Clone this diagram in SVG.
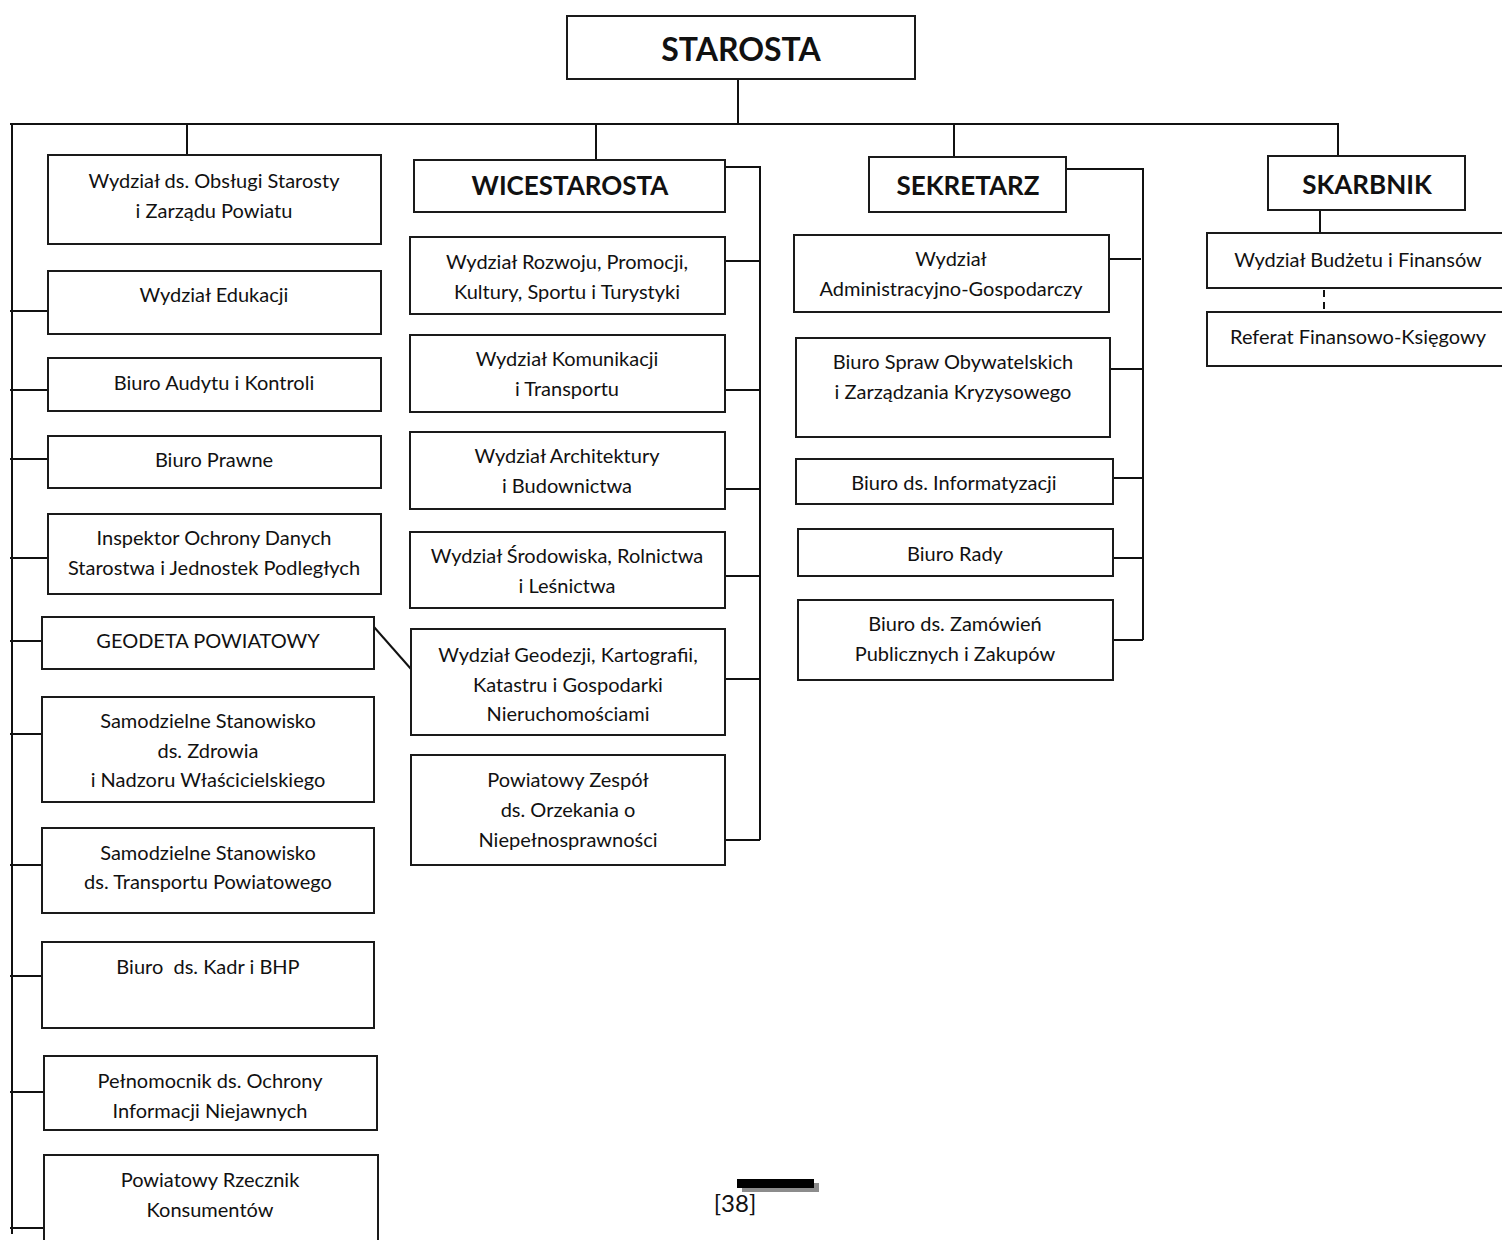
<svg xmlns="http://www.w3.org/2000/svg" width="1502" height="1240" viewBox="0 0 1502 1240">
<style>
.box{fill:#fff;stroke:#1a1a1a;stroke-width:2}
.ln{fill:none;stroke:#111;stroke-width:2}
.dash{fill:none;stroke:#111;stroke-width:2;stroke-dasharray:7,5}
text{font-family:Lato,"Open Sans","DejaVu Sans",sans-serif;fill:#111;text-anchor:middle}
.t{font-size:20px}
.h{font-size:26px;font-weight:bold}
.hh{font-size:32px;font-weight:bold}
.pg{font-size:24px}
</style>
<rect width="1502" height="1240" fill="#fff"/>
<g id="connectors">
<path class="ln" d="M738 79V124M10 124H1339M12 124V1234M187 124V155M596 124V160M954 124V157M1338 124V156"/>
<path class="ln" d="M10 311H48M10 390H48M10 459H48M10 558H48M10 641H42M10 734H42M10 865H42M10 976H42M10 1092H44M10 1228H44"/>
<path class="ln" d="M725 167H760V840M725 261H760M725 390H760M725 489H760M725 576H760M725 679H760M725 840H760"/>
<path class="ln" d="M374 627L411 669"/>
<path class="ln" d="M1066 169H1143V640M1109 259H1141M1110 369H1143M1113 478H1143M1110 558H1143M1110 640H1143"/>
<path class="ln" d="M1320 210V233"/>
<path class="dash" d="M1324 290V312"/>
</g>
<g id="starosta"><rect class="box" x="567" y="16" width="348" height="63"/><text class="hh" x="741" y="61">STAROSTA</text></g>
<g id="obslugi"><rect class="box" x="48" y="155" width="333" height="89"/><text class="t" x="214" y="188">Wydział ds. Obsługi Starosty</text><text class="t" x="214" y="218">i Zarządu Powiatu</text></g>
<g id="edukacji"><rect class="box" x="48" y="271" width="333" height="63"/><text class="t" x="214" y="302">Wydział Edukacji</text></g>
<g id="audytu"><rect class="box" x="48" y="358" width="333" height="53"/><text class="t" x="214" y="390">Biuro Audytu i Kontroli</text></g>
<g id="prawne"><rect class="box" x="48" y="436" width="333" height="52"/><text class="t" x="214" y="467">Biuro Prawne</text></g>
<g id="inspektor"><rect class="box" x="48" y="514" width="333" height="80"/><text class="t" x="214" y="545">Inspektor Ochrony Danych</text><text class="t" x="214" y="575">Starostwa i Jednostek Podległych</text></g>
<g id="geodeta"><rect class="box" x="42" y="617" width="332" height="52"/><text class="t" x="208" y="648">GEODETA POWIATOWY</text></g>
<g id="zdrowia"><rect class="box" x="42" y="697" width="332" height="105"/><text class="t" x="208" y="728">Samodzielne Stanowisko</text><text class="t" x="208" y="758">ds. Zdrowia</text><text class="t" x="208" y="787">i Nadzoru Właścicielskiego</text></g>
<g id="transport"><rect class="box" x="42" y="828" width="332" height="85"/><text class="t" x="208" y="860">Samodzielne Stanowisko</text><text class="t" x="208" y="889">ds. Transportu Powiatowego</text></g>
<g id="kadr"><rect class="box" x="42" y="942" width="332" height="86"/><text class="t" x="208" y="974" xml:space="preserve">Biuro  ds. Kadr i BHP</text></g>
<g id="pelnomocnik"><rect class="box" x="44" y="1056" width="333" height="74"/><text class="t" x="210" y="1088">Pełnomocnik ds. Ochrony</text><text class="t" x="210" y="1118">Informacji Niejawnych</text></g>
<g id="rzecznik"><rect class="box" x="44" y="1155" width="334" height="100"/><text class="t" x="210" y="1187">Powiatowy Rzecznik</text><text class="t" x="210" y="1217">Konsumentów</text></g>
<g id="wicestarosta"><rect class="box" x="414" y="160" width="311" height="52"/><text class="h" x="570" y="195">WICESTAROSTA</text></g>
<g id="rozwoju"><rect class="box" x="410" y="237" width="315" height="77"/><text class="t" x="567" y="269">Wydział Rozwoju, Promocji,</text><text class="t" x="567" y="299">Kultury, Sportu i Turystyki</text></g>
<g id="komunikacji"><rect class="box" x="410" y="335" width="315" height="77"/><text class="t" x="567" y="366">Wydział Komunikacji</text><text class="t" x="567" y="396">i Transportu</text></g>
<g id="architektury"><rect class="box" x="410" y="432" width="315" height="77"/><text class="t" x="567" y="463">Wydział Architektury</text><text class="t" x="567" y="493">i Budownictwa</text></g>
<g id="srodowiska"><rect class="box" x="410" y="532" width="315" height="76"/><text class="t" x="567" y="563">Wydział Środowiska, Rolnictwa</text><text class="t" x="567" y="593">i Leśnictwa</text></g>
<g id="geodezji"><rect class="box" x="411" y="629" width="314" height="106"/><text class="t" x="568" y="662">Wydział Geodezji, Kartografii,</text><text class="t" x="568" y="692">Katastru i Gospodarki</text><text class="t" x="568" y="721">Nieruchomościami</text></g>
<g id="zespol"><rect class="box" x="411" y="755" width="314" height="110"/><text class="t" x="568" y="787">Powiatowy Zespół</text><text class="t" x="568" y="817">ds. Orzekania o</text><text class="t" x="568" y="847">Niepełnosprawności</text></g>
<g id="sekretarz"><rect class="box" x="869" y="157" width="197" height="55"/><text class="h" x="968" y="195">SEKRETARZ</text></g>
<g id="admin"><rect class="box" x="794" y="235" width="315" height="77"/><text class="t" x="951" y="266">Wydział</text><text class="t" x="951" y="296">Administracyjno-Gospodarczy</text></g>
<g id="obywatelskich"><rect class="box" x="796" y="338" width="314" height="99"/><text class="t" x="953" y="369">Biuro Spraw Obywatelskich</text><text class="t" x="953" y="399">i Zarządzania Kryzysowego</text></g>
<g id="informatyzacji"><rect class="box" x="796" y="459" width="317" height="45"/><text class="t" x="954" y="490">Biuro ds. Informatyzacji</text></g>
<g id="rady"><rect class="box" x="798" y="529" width="315" height="47"/><text class="t" x="955" y="561">Biuro Rady</text></g>
<g id="zamowien"><rect class="box" x="798" y="600" width="315" height="80"/><text class="t" x="955" y="631">Biuro ds. Zamówień</text><text class="t" x="955" y="661">Publicznych i Zakupów</text></g>
<g id="skarbnik"><rect class="box" x="1268" y="156" width="197" height="54"/><text class="h" x="1367" y="194">SKARBNIK</text></g>
<g id="budzetu"><rect class="box" x="1207" y="233" width="305" height="55"/><text class="t" x="1358" y="267">Wydział Budżetu i Finansów</text></g>
<g id="referat"><rect class="box" x="1207" y="312" width="305" height="54"/><text class="t" x="1358" y="344">Referat Finansowo-Księgowy</text></g>
<g id="page">
<rect x="742" y="1183" width="77" height="9" fill="#8c8c8c"/>
<rect x="737" y="1179" width="77" height="9" fill="#000"/>
<text class="pg" x="735" y="1212">[38]</text>
</g>
</svg>
